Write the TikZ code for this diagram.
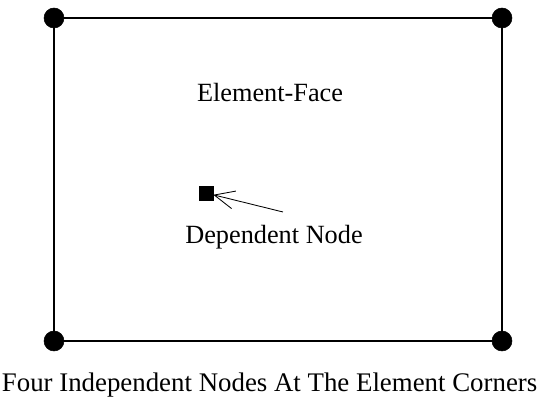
\documentclass[tikz,border=0pt]{standalone}
\usepackage{fontspec}
\setmainfont{Liberation Serif}
\usepackage{tikz}
\usetikzlibrary{arrows.meta}
\tikzstyle{corner} = [draw, circle, fill=black, minimum size=0.5cm, inner sep=0pt]
\tikzstyle{depnode} = [draw, rectangle, fill=black, minimum size=0.35cm, inner sep=0pt]
\tikzstyle{arrow} = [-{Straight Barb[length=0.5cm, width=0.45cm]}, line width=0.6pt]
\tikzstyle{label} = [anchor=base, font=\fontsize{18.7}{22}\selectfont]

\begin{document}
\begin{tikzpicture}
	\useasboundingbox (0,0) rectangle (13.525,10.05);
	\node[corner](a) at (1.35, 9.6){};
	\node[corner](b) at (12.55, 9.6){};
	\node[corner](c) at (12.55, 1.525){};
	\node[corner](d) at (1.35, 1.525){};
	\draw[line width=0.9pt](a) -- (b) -- (c) -- (d) -- (a);

	\node[label](face) at (6.75, 7.5){Element-Face};
	\node[depnode](dep) at (5.15, 5.225){};
	\coordinate(tail) at (7.075, 4.75);
	\draw[arrow](tail) -- (dep);
	\node[label](deplabel) at (6.85, 3.95){Dependent Node};

	\node[label, font=\fontsize{19.1}{22}\selectfont](corners) at (6.74, 0.25){Four Independent Nodes At The Element Corners};
\end{tikzpicture}
\end{document}
